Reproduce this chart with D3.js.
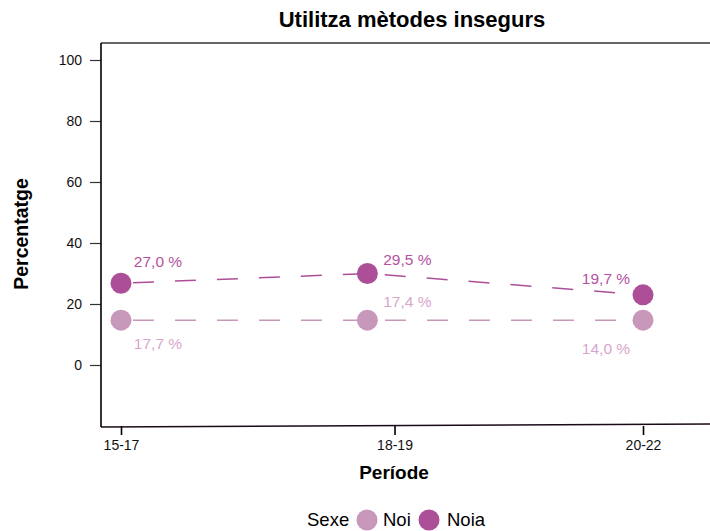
<!DOCTYPE html>
<html>
<head>
<meta charset="utf-8">
<script src="https://cdn.jsdelivr.net/npm/d3@7"></script>
<style>
  body { margin: 0; background: #fff; }
  text { font-family: "Liberation Sans", Arial, Helvetica, sans-serif; }
</style>
</head>
<body>
<div id="viz"></div>
<script>
// data
var periods = ["15-17", "18-19", "20-22"];
var tickAt = [16, 18.62, 21];      // where the period ticks sit on the x axis
var pointAt = [16, 18.36, 21];     // where the points were drawn
var noiValues = [14.7, 14.7, 14.7];
var noiaValues = [26.8, 30.0, 23.0];
var noiLabels = ["17,7 %", "17,4 %", "14,0 %"];
var noiaLabels = ["27,0 %", "29,5 %", "19,7 %"];
var yTicks = [0, 20, 40, 60, 80, 100];

var colNoi = "#c898ba", colNoia = "#ad4f98";
var labNoi = "#d8a6cb", labNoia = "#b452a0";

// label nudges (repel-like layout)
var noiNudge = [[37, 25], [40, -17], [-37, 30]];
var noiaNudge = [[37, -20], [40, -13], [-37, -15]];

var W = 710, H = 531;
var svg = d3.select("#viz").append("svg")
    .attr("width", W).attr("height", H);

var x = d3.scaleLinear().domain([16, 21]).range([121, 643]);
var y = d3.scaleLinear().domain([0, 100]).range([365, 60]);

var plotLeft = 101, plotTop = 43, plotBottom = 426;

// frame
svg.append("line").attr("x1", plotLeft).attr("x2", W).attr("y1", plotTop).attr("y2", plotTop)
    .attr("stroke", "#333").attr("stroke-width", 1.4);
svg.append("line").attr("x1", plotLeft).attr("x2", W).attr("y1", plotBottom + 1).attr("y2", plotBottom - 2)
    .attr("stroke", "#1a0a18").attr("stroke-width", 1.6);

// y axis
var yAxis = svg.append("g")
    .attr("transform", "translate(" + plotLeft + ",0)")
    .call(d3.axisLeft(y).tickValues(yTicks).tickSize(11).tickPadding(8));
yAxis.select(".domain").remove();
svg.append("line").attr("x1", plotLeft).attr("x2", plotLeft).attr("y1", plotTop).attr("y2", plotBottom + 1)
    .attr("stroke", "#000").attr("stroke-width", 1.6);
yAxis.selectAll(".tick line").attr("stroke", "#333").attr("stroke-width", 1.2);
yAxis.selectAll(".tick text").attr("font-size", 14).attr("fill", "#111")
    .attr("font-family", "Liberation Sans, Arial, sans-serif");

// x axis
var xAxis = svg.append("g")
    .attr("transform", "translate(0," + plotBottom + ")")
    .call(d3.axisBottom(x).tickValues(tickAt)
        .tickFormat(function (d, i) { return periods[i]; })
        .tickSize(9).tickPadding(5));
xAxis.select(".domain").remove();
xAxis.selectAll(".tick line").attr("stroke", "#000").attr("stroke-width", 1.6);
xAxis.selectAll(".tick text").attr("font-size", 14).attr("fill", "#111")
    .attr("font-family", "Liberation Sans, Arial, sans-serif");

// series
var series = [
    {name: "Noi", values: noiValues, labels: noiLabels, col: colNoi, lab: labNoi, nudge: noiNudge},
    {name: "Noia", values: noiaValues, labels: noiaLabels, col: colNoia, lab: labNoia, nudge: noiaNudge}
];

var line = d3.line()
    .x(function (d) { return x(d[0]); })
    .y(function (d) { return y(d[1]); });

series.forEach(function (s) {
    var pts = s.values.map(function (v, i) { return [pointAt[i], v]; });
    svg.append("path")
        .datum(pts)
        .attr("d", line)
        .attr("fill", "none")
        .attr("stroke", s.col)
        .attr("stroke-width", 1.5)
        .attr("stroke-dasharray", "21,21")
        .attr("stroke-dashoffset", -12);
});

series.forEach(function (s) {
    svg.selectAll(null)
        .data(s.values)
        .enter().append("circle")
        .attr("cx", function (d, i) { return x(pointAt[i]); })
        .attr("cy", function (d) { return y(d); })
        .attr("r", 10.5)
        .attr("fill", s.col);

    svg.selectAll(null)
        .data(s.values)
        .enter().append("text")
        .attr("x", function (d, i) { return x(pointAt[i]) + s.nudge[i][0]; })
        .attr("y", function (d, i) { return y(d) + s.nudge[i][1]; })
        .attr("text-anchor", "middle")
        .attr("dominant-baseline", "middle")
        .attr("font-size", 15.5)
        .attr("fill", s.lab)
        .text(function (d, i) { return s.labels[i]; });
});

// titles
svg.append("text").attr("x", 412).attr("y", 27)
    .attr("text-anchor", "middle").attr("font-size", 22).attr("font-weight", "bold")
    .text("Utilitza mètodes insegurs");
svg.append("text").attr("x", 394).attr("y", 479)
    .attr("text-anchor", "middle").attr("font-size", 19).attr("font-weight", "bold")
    .text("Període");
svg.append("text")
    .attr("transform", "translate(28,234) rotate(-90)")
    .attr("text-anchor", "middle").attr("font-size", 19.5).attr("font-weight", "bold")
    .text("Percentatge");

// legend
var lg = svg.append("g");
lg.append("text").attr("x", 307).attr("y", 526).attr("font-size", 18.5).text("Sexe");
var legendItems = [{name: "Noi", col: colNoi, cx: 367, tx: 383}, {name: "Noia", col: colNoia, cx: 429, tx: 447}];
legendItems.forEach(function (d) {
    lg.append("circle").attr("cx", d.cx).attr("cy", 520).attr("r", 10.5).attr("fill", d.col);
    lg.append("text").attr("x", d.tx).attr("y", 526).attr("font-size", 18.5).text(d.name);
});
</script>
</body>
</html>
